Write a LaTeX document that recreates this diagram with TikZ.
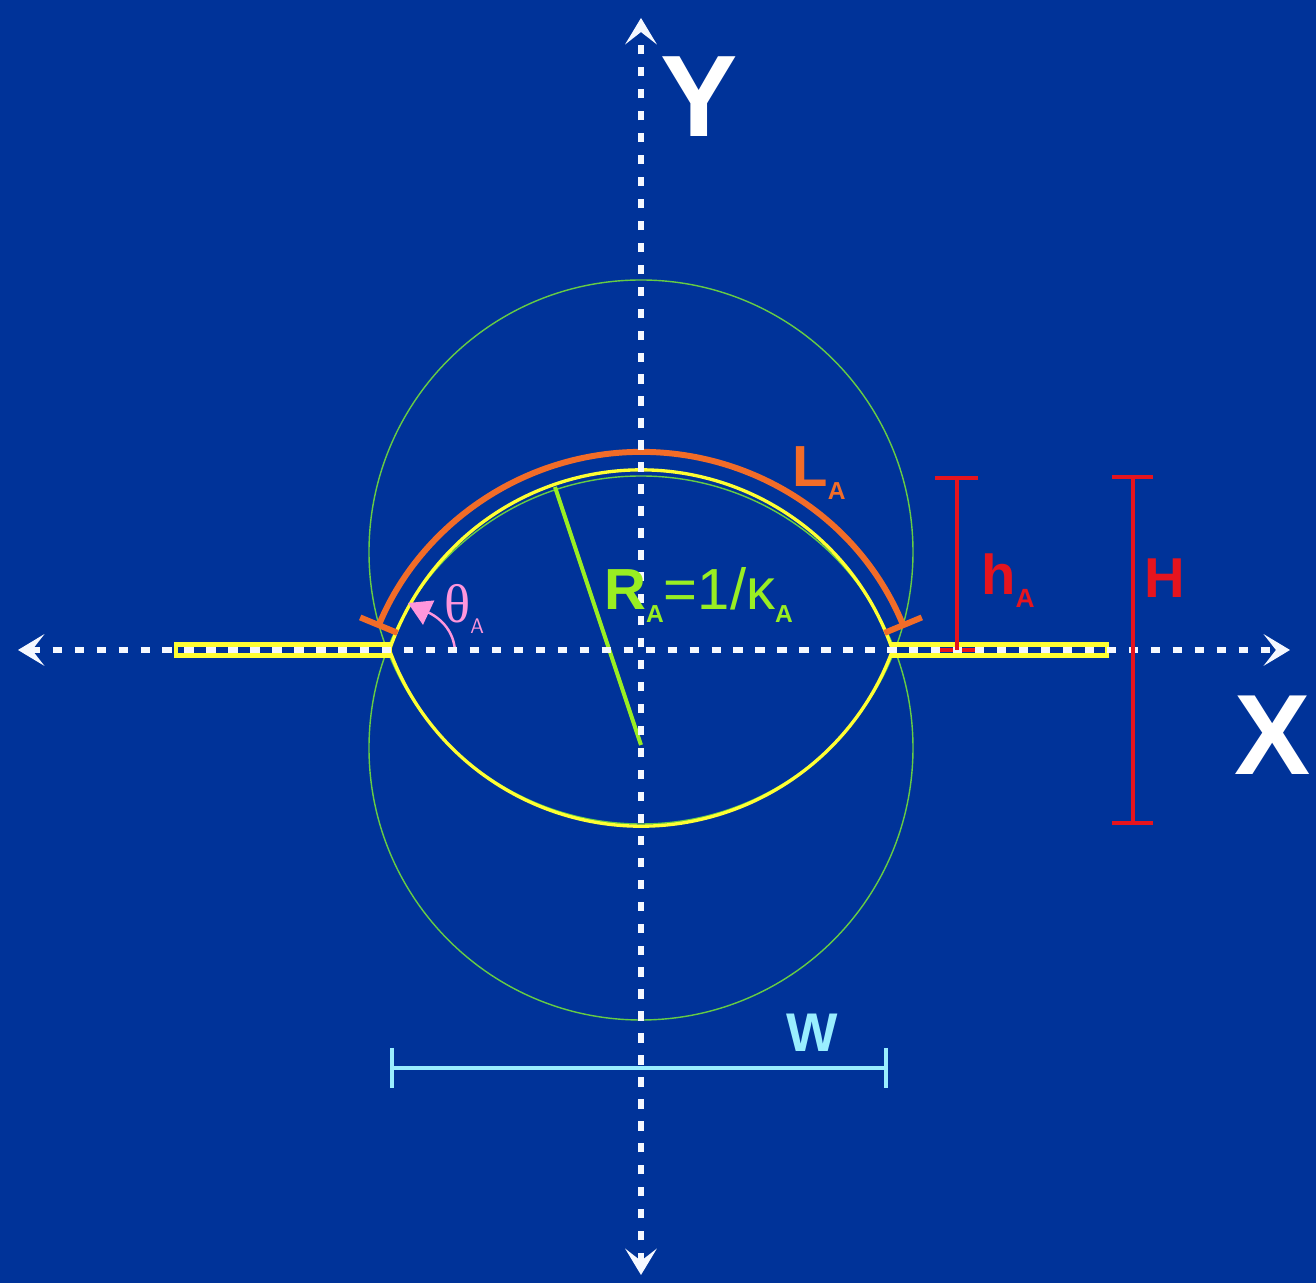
\documentclass[tikz,border=0pt]{standalone}
\usepackage{fontspec}
\setmainfont{Liberation Sans}
\newfontfamily\serifth{Liberation Serif}
\usetikzlibrary{arrows.meta}
\definecolor{bg}{RGB}{0,51,153}
\definecolor{axisw}{RGB}{245,248,255}
\definecolor{lensy}{RGB}{255,255,51}
\definecolor{circg}{RGB}{102,204,68}
\definecolor{radg}{RGB}{153,238,34}
\definecolor{arco}{RGB}{242,108,40}
\definecolor{dimr}{RGB}{230,20,30}
\definecolor{dimc}{RGB}{153,238,255}
\definecolor{angp}{RGB}{255,150,220}
\newcommand{\fs}[1]{\fontsize{#1}{#1}\selectfont}
\newcommand{\subA}[1]{\raisebox{-7pt}{\fs{#1}\bfseries A}}
\begin{document}
\begin{tikzpicture}[x=0.02cm,y=0.02cm,
  axtip/.tip={Stealth[length=15pt,width=18pt,inset=7pt]},
  axisline/.style={draw=axisw, line width=3.4pt, dash pattern=on 5.3pt off 7.2pt, axtip-axtip},
  circ/.style={draw=circg, line width=0.8pt},
  lens/.style={draw=lensy, line width=1.9pt},
  lensbar/.style={draw=lensy, line width=2.8pt},
  dimred/.style={draw=dimr, line width=2.3pt},
  dimcyan/.style={draw=dimc, line width=2.8pt},
  lbl/.style={inner sep=0pt, font=\bfseries}]
% background / bounding box
\fill[bg] (-641,-633) rectangle (675,650);
\useasboundingbox (-641,-633) rectangle (675,650);
% named points
\coordinate (O) at (0,0);
\coordinate (cU) at (0,98);
\coordinate (cL) at (0,-98);
\coordinate (Pl) at (-251.5,0);
\coordinate (Pr) at (251.5,0);
% green circles
\draw[circ] (cU) circle (272);
\draw[circ] (cL) circle (272);
% yellow lens
\draw[lens] (Pr) arc[start angle=18.8, end angle=161.2, radius=265.7];
\draw[lens] (Pl) arc[start angle=200, end angle=340, radius=267.7];
% yellow bars along the x axis
\draw[lensbar] (-465,-5.5) rectangle (Pl |- 0,5.5);
\draw[lensbar] (Pr |- 0,-5.5) rectangle (466,5.5);
% h_A bottom cap (under the axis)
\coordinate (hb) at (316,0);
\coordinate (ht) at (316,172);
\draw[dimred] (294,0) -- (337,0);
% orange arc L_A
\draw[draw=arco, line width=3.4pt, {Bar[width=23pt]}-{Bar[width=23pt]}]
  ([shift={(0,-87)}]22.5:285) arc[start angle=22.5, end angle=157.5, radius=285];
% green radius
\coordinate (rc) at (0,-95);
\coordinate (rp) at (-86,163);
\draw[draw=radg, line width=2.3pt] (rc) -- (rp);
% theta arc
\coordinate (ta) at (-186,0);
\coordinate (tb) at (-233,47);
\draw[draw=angp, line width=1.4pt, -{Triangle[length=13pt,width=15pt]}]
  (ta) to[out=95, in=-25] (tb);
% W dimension
\coordinate (wl) at (-249,-418);
\coordinate (wr) at (245,-418);
\draw[dimcyan] (wl) -- (wr);
\draw[dimcyan] (-249,-398) -- (-249,-438);
\draw[dimcyan] (245,-398) -- (245,-438);
% axes
\coordinate (xl) at (-623,0);
\coordinate (xr) at (649,0);
\coordinate (yb) at (0,-625);
\coordinate (yt) at (0,632);
\draw[axisline] (xl) -- (xr);
\draw[axisline] (yb) -- (yt);
% h_A vertical
\draw[dimred] (hb) -- (ht);
\draw[dimred] (294,172) -- (337,172);
% H dimension
\coordinate (Hb) at (492,-173);
\coordinate (Ht) at (492,173);
\draw[dimred] (Hb) -- (Ht);
\draw[dimred] (471,173) -- (512,173);
\draw[dimred] (471,-173) -- (512,-173);
% labels
\node[lbl, text=white] (Ylab) at (58,553) {\fs{66}Y};
\node[lbl, text=white] (Xlab) at (632,-85) {\fs{65}X};
\node[lbl, text=arco, anchor=base west] (Llab) at (151,163) {\fs{33}L\subA{14}};
\node[lbl, text=dimr, anchor=base west] (hlab) at (340,55) {\fs{32}h\subA{15}};
\node[lbl, text=dimr] (Hlab) at (524,72) {\fs{32}H};
\node[lbl, text=dimc] (Wlab) at (171,-383) {\fs{31}W};
\node[lbl, text=radg, anchor=base west] (Rlab) at (-37,40) {\fs{33}R\subA{14}\mdseries\fs{33}=1/κ\subA{14}};
\node[inner sep=0pt, text=angp, anchor=base west] (tlab) at (-197,27) {\serifth\fs{31}θ\raisebox{-6pt}{\sffamily\fs{12}A}};
\end{tikzpicture}
\end{document}
